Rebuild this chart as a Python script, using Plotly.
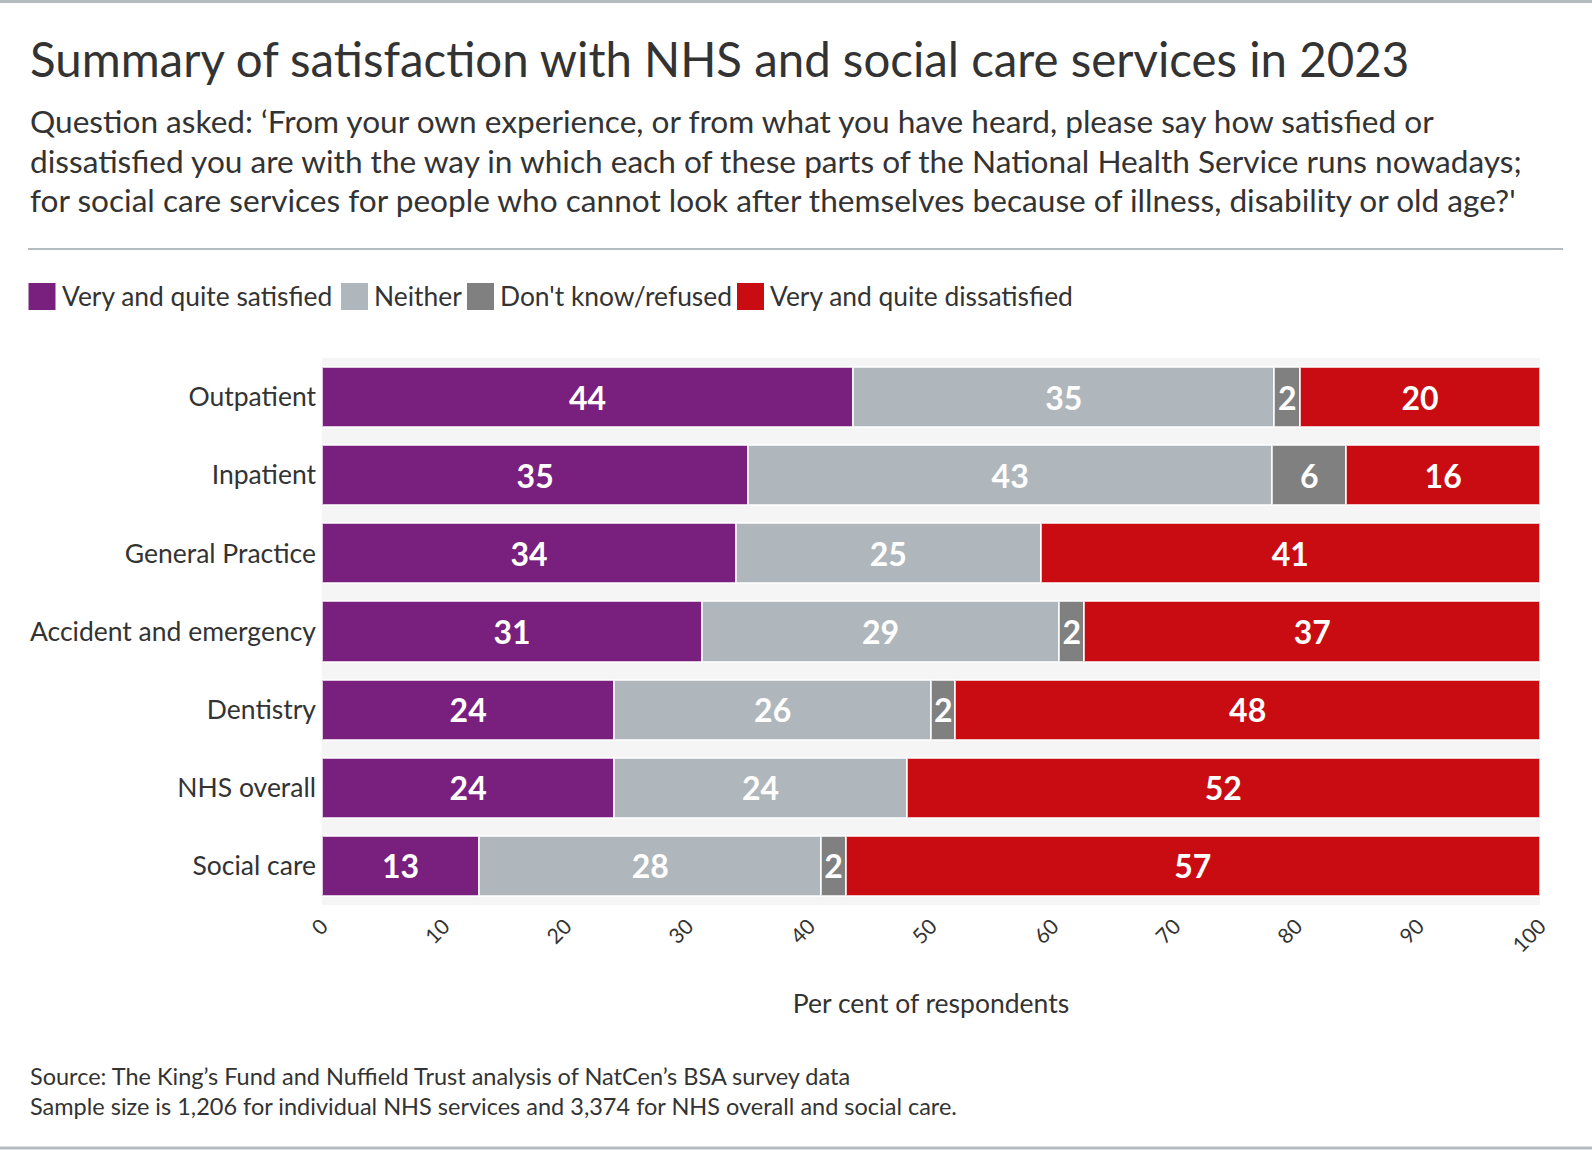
import plotly.graph_objects as go

# ---- data ----
categories = ["Outpatient", "Inpatient", "General Practice", "Accident and emergency",
              "Dentistry", "NHS overall", "Social care"]
satisfied = [43.6, 35.0, 34.0, 31.2, 24.0, 24.0, 12.9]
neither = [34.6, 43.0, 25.0, 29.3, 26.0, 24.0, 28.1]
dont_know = [2.1, 6.1, 0.0, 2.1, 2.0, 0.0, 2.0]
dissatisfied = [19.7, 15.9, 41.0, 37.4, 48.0, 52.0, 57.0]

series_names = ["Very and quite satisfied", "Neither", "Don't know/refused",
                "Very and quite dissatisfied"]
series_values = [satisfied, neither, dont_know, dissatisfied]
series_colors = ["#79207f", "#b0b7bc", "#808080", "#c80c12"]

x_ticks = [0, 10, 20, 30, 40, 50, 60, 70, 80, 90, 100]

title = "Summary of satisfaction with NHS and social care services in 2023"
subtitle_lines = [
    "Question asked: \u2018From your own experience, or from what you have heard, please say how satisfied or",
    "dissatisfied you are with the way in which each of these parts of the National Health Service runs nowadays;",
    "for social care services for people who cannot look after themselves because of illness, disability or old age?'",
]
footer_lines = [
    "Source: The King\u2019s Fund and Nuffield Trust analysis of NatCen\u2019s BSA survey data",
    "Sample size is 1,206 for individual NHS services and 3,374 for NHS overall and social care.",
]
x_title = "Per cent of respondents"

# ---- layout geometry (pixels) ----
W, H = 1592, 1150
PL, PR, PT, PB = 322, 1540, 358, 905
FONT = "Lato"
TXT = "#333333"


def fx(px):
    return (px - PL) / (PR - PL)


def fy(py):
    return (PB - py) / (PB - PT)


fig = go.Figure()
for name, vals, col in zip(series_names, series_values, series_colors):
    fig.add_trace(go.Bar(
        y=categories, x=vals, name=name, orientation="h",
        marker=dict(color=col, line=dict(color="rgba(255,255,255,0.75)", width=2)),
        text=[f"{round(v)}" if v > 0 else "" for v in vals],
        textposition="inside", insidetextanchor="middle", textangle=0,
        constraintext="none",
        textfont=dict(family=FONT, size=32, color="white", weight="bold"),
        showlegend=False, hoverinfo="x+y+name",
    ))

annotations = []
shapes = []

# title and subtitle
annotations.append(dict(text=title, x=fx(28), y=fy(58), xref="paper", yref="paper",
                        xanchor="left", yanchor="middle", showarrow=False,
                        font=dict(family=FONT, size=47.4, color=TXT)))
for line, cy in zip(subtitle_lines, [121, 161, 200]):
    annotations.append(dict(text=line, x=fx(28), y=fy(cy), xref="paper", yref="paper",
                            xanchor="left", yanchor="middle", showarrow=False,
                            font=dict(family=FONT, size=31.6, color=TXT)))
# separator
shapes.append(dict(type="line", xref="paper", yref="paper", x0=fx(28), x1=fx(1563),
                   y0=fy(249), y1=fy(249), line=dict(color="#b4bcc0", width=2)))
# page border lines
shapes.append(dict(type="line", xref="paper", yref="paper", x0=fx(0), x1=fx(W),
                   y0=fy(1.5), y1=fy(1.5), line=dict(color="#b4bcc0", width=3)))
shapes.append(dict(type="line", xref="paper", yref="paper", x0=fx(0), x1=fx(W),
                   y0=fy(1148), y1=fy(1148), line=dict(color="#b4bcc0", width=3)))

# legend (manual, large swatches)
legend_sq_x = [28.5, 341, 467, 737]
for name, col, sx in zip(series_names, series_colors, legend_sq_x):
    shapes.append(dict(type="rect", xref="paper", yref="paper", x0=fx(sx), x1=fx(sx + 27),
                       y0=fy(283), y1=fy(310), fillcolor=col, line=dict(width=0)))
    annotations.append(dict(text=name, x=fx(sx + 31), y=fy(296), xref="paper", yref="paper",
                            xanchor="left", yanchor="middle", showarrow=False,
                            font=dict(family=FONT, size=26.4, color=TXT)))

# footer
for line, cy in zip(footer_lines, [1076, 1106]):
    annotations.append(dict(text=line, x=fx(28), y=fy(cy), xref="paper", yref="paper",
                            xanchor="left", yanchor="middle", showarrow=False,
                            font=dict(family=FONT, size=23.5, color=TXT)))

fig.update_layout(
    width=W, height=H, barmode="stack", bargap=0.23,
    margin=dict(l=PL, r=W - PR, t=PT, b=H - PB, pad=0),
    paper_bgcolor="white", plot_bgcolor="#f5f5f5",
    font=dict(family=FONT, color=TXT),
    annotations=annotations, shapes=shapes,
    showlegend=False,
)
fig.update_xaxes(range=[0, 100], tickvals=x_ticks, ticktext=[str(t) for t in x_ticks],
                 tickangle=-45, tickfont=dict(family=FONT, size=21, color=TXT),
                 showgrid=False, zeroline=False, showline=False, ticks="",
                 ticklabelstandoff=4,
                 title=dict(text=x_title, font=dict(family=FONT, size=26.5, color=TXT), standoff=38),
                 automargin=False, fixedrange=True)
fig.update_yaxes(autorange="reversed", tickfont=dict(family=FONT, size=26.5, color=TXT),
                 showgrid=False, zeroline=False, showline=False, ticks="",
                 ticklabelstandoff=5, automargin=False, fixedrange=True)

fig.write_html("out.html", config={"displayModeBar": False},
               post_script="document.body.style.margin='0';")
